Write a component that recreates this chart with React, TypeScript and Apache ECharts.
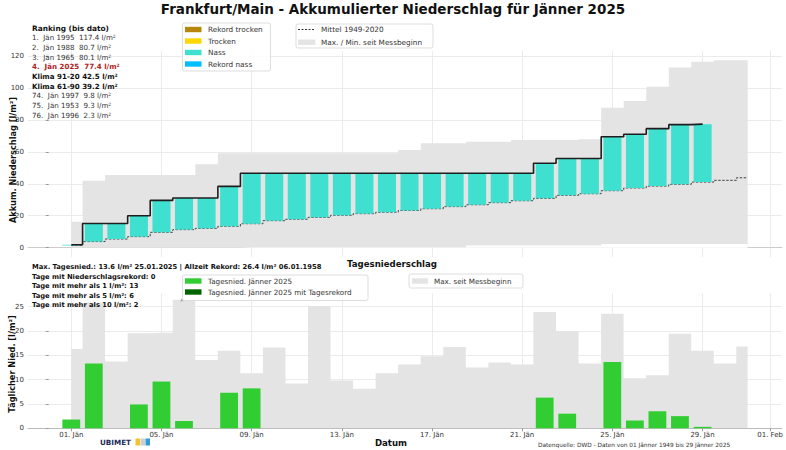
import React, { useEffect, useRef } from "react";
import * as echarts from "echarts";

// ---- data ----
const days = [1, 2, 3, 4, 5, 6, 7, 8, 9, 10, 11, 12, 13, 14, 15, 16, 17, 18, 19, 20, 21, 22, 23, 24, 25, 26, 27, 28, 29, 30, 31];
const cumMax = [16.3, 42.0, 45.5, 45.5, 45.5, 45.5, 52.2, 59.1, 59.1, 59.1, 59.1, 59.1, 59.1, 59.1, 59.1, 61.2, 65.4, 65.4, 66.4, 66.4, 67.4, 67.4, 67.4, 67.9, 87.7, 92.0, 100.8, 113.0, 116.5, 117.4, 117.4];
const cumMin = [0, 0, 0, 0, 0, 0, 0, 0, 0.3, 0.3, 0.3, 0.3, 0.3, 0.3, 0.3, 0.3, 0.3, 0.3, 1.3, 1.3, 1.3, 1.3, 1.3, 1.3, 2.3, 2.3, 2.3, 2.3, 2.3, 2.3, 2.3];
const cumMean = [1.4, 3.8, 5.4, 6.9, 9.6, 11.3, 12.1, 13.4, 15.0, 16.9, 17.8, 19.0, 20.3, 21.3, 22.2, 23.3, 24.4, 25.7, 26.9, 28.2, 29.4, 30.9, 32.8, 33.8, 35.7, 37.4, 38.6, 39.7, 41.1, 42.2, 43.8];
const daily2025 = [1.8, 13.3, 0, 4.9, 9.6, 1.5, 0, 7.3, 8.2, 0, 0, 0, 0, 0, 0, 0, 0, 0, 0, 0, 0, 6.3, 3.0, 0, 13.6, 1.6, 3.5, 2.5, 0.3];
const dailyMax = [16.3, 25.8, 13.7, 19.5, 19.6, 26.4, 14.0, 15.9, 11.3, 16.6, 9.2, 25.1, 9.8, 8.1, 11.3, 13.1, 14.8, 16.7, 12.5, 13.5, 13.1, 23.9, 20.0, 13.3, 23.5, 10.3, 10.9, 19.4, 15.9, 13.3, 16.8];
const recordDay = 6;
const recordValue = 26.4;

const tickDays = [1, 5, 9, 13, 17, 21, 25, 29, 32];
const tickLabels = ["01. Jän", "05. Jän", "09. Jän", "13. Jän", "17. Jän", "21. Jän", "25. Jän", "29. Jän", "01. Feb"];
const topYTicks = [0, 20, 40, 60, 80, 100, 120];
const bottomYTicks = [0, 5, 10, 15, 20, 25];

const rankPlaces = ["1.", "2.", "3.", "4.", "74.", "75.", "76."];
const rankYears = ["1995", "1988", "1965", "2025", "1997", "1953", "1996"];
const rankValues = ["117.4", "80.7", "80.1", "77.4", "9.8", "9.3", "2.3"];
const climateLines = ["Klima 91-20 42.5 l/m²", "Klima 61-90 39.2 l/m²"];
const statLines = [
  "Max. Tagesnied.: 13.6 l/m² 25.01.2025 | Allzeit Rekord: 26.4 l/m² 06.01.1958",
  "Tage mit Niederschlagsrekord: 0",
  "Tage mit mehr als 1 l/m²: 13",
  "Tage mit mehr als 5 l/m²: 6",
  "Tage mit mehr als 10 l/m²: 2",
];
const legendTopItems = [
  { label: "Rekord trocken", color: "#b8860b" },
  { label: "Trocken", color: "#ffd700" },
  { label: "Nass", color: "#40e0d0" },
  { label: "Rekord nass", color: "#00bfff" },
];

const FONT = "DejaVu Sans";
const GREY = "#e4e4e4";
const GRID = "#ebebeb";

function App() {
  const ref = useRef<HTMLDivElement>(null);
  useEffect(() => {
    if (!ref.current) return;
    const chart = echarts.init(ref.current, null, { renderer: "svg" });

    const days2025 = days.slice(0, daily2025.length);
    const cum2025: number[] = [];
    daily2025.forEach((v, i) => cum2025.push(Math.round(((i ? cum2025[i - 1] : 0) + v) * 10) / 10));

    const xMin = -0.92;
    const xMax = 32.52;

    const txt = (x: number, y: number, text: string, o: any = {}) => ({
      type: "text",
      x,
      y,
      z: 100,
      rotation: o.rotation || 0,
      style: {
        text,
        fontFamily: FONT,
        fontSize: o.size || 7,
        fontWeight: o.bold ? "bold" : "normal",
        fill: o.color || "#222",
        align: o.align || "left",
        verticalAlign: "middle",
      },
    });
    const rect = (x: number, y: number, w: number, h: number, fill: string, stroke?: string) => ({
      type: "rect",
      z: 99,
      shape: { x, y, width: w, height: h, r: stroke ? 2 : 0 },
      style: { fill, stroke: stroke || null, lineWidth: stroke ? 1 : 0 },
    });

    const graphics: any[] = [];
    graphics.push(txt(393, 9, "Frankfurt/Main - Akkumulierter Niederschlag für Jänner 2025", { size: 13.5, bold: true, align: "center", color: "#111" }));
    // ranking block
    const ry0 = 28.3;
    const rs = 9.67;
    graphics.push(txt(32, ry0, "Ranking (bis dato)", { size: 7.4, bold: true, color: "#111" }));
    const rankText = (i: number) => `${rankPlaces[i]}  Jän ${rankYears[i]}  ${rankValues[i]} l/m²`;
    for (let i = 0; i < 3; i++) graphics.push(txt(32, ry0 + rs * (i + 1), rankText(i), { size: 7.1, color: "#333" }));
    graphics.push(txt(32, ry0 + rs * 4, rankText(3), { size: 7.1, bold: true, color: "#b22222" }));
    graphics.push(txt(32, ry0 + rs * 5, climateLines[0], { size: 7.1, bold: true, color: "#111" }));
    graphics.push(txt(32, ry0 + rs * 6, climateLines[1], { size: 7.1, bold: true, color: "#111" }));
    for (let i = 4; i < 7; i++) graphics.push(txt(32, ry0 + rs * (i + 3), rankText(i), { size: 7.1, color: "#333" }));

    // top legend 1
    graphics.push(rect(182.5, 23, 88, 48, "rgba(255,255,255,0.85)", "#dddddd"));
    legendTopItems.forEach((it, i) => {
      const y = 29.5 + i * 11.5;
      graphics.push(rect(185, y - 2.7, 16.5, 5.4, it.color));
      graphics.push(txt(208, y, it.label, { size: 7.3, color: "#333" }));
    });
    // top legend 2
    graphics.push(rect(296, 24, 137, 24, "rgba(255,255,255,0.85)", "#dddddd"));
    graphics.push({ type: "line", z: 100, shape: { x1: 298, y1: 29.5, x2: 315.5, y2: 29.5 }, style: { stroke: "#333", lineWidth: 1, lineDash: [2, 1.5] } });
    graphics.push(txt(321, 29.5, "Mittel 1949-2020", { size: 7.3, color: "#333" }));
    graphics.push(rect(298, 39.5, 17.5, 5.4, GREY));
    graphics.push(txt(321, 42, "Max. / Min. seit Messbeginn", { size: 7.3, color: "#333" }));

    // y-axis titles
    graphics.push(txt(13, 160, "Akkum. Niederschlag [l/m²]", { size: 8.2, bold: true, align: "center", rotation: Math.PI / 2, color: "#111" }));
    graphics.push(txt(12, 364, "Täglicher Nied. [l/m²]", { size: 8.2, bold: true, align: "center", rotation: Math.PI / 2, color: "#111" }));

    // middle title
    graphics.push(txt(392, 264, "Tagesniederschlag", { size: 8.6, bold: true, align: "center", color: "#111" }));
    // stats
    const sy = [267, 276.5, 286, 295.5, 305];
    statLines.forEach((s, i) => graphics.push(txt(32, sy[i], s, { size: 6.75, bold: true, color: "#111" })));
    // bottom legend 1
    graphics.push(rect(182.5, 275, 185.5, 25.5, "rgba(255,255,255,0.85)", "#dddddd"));
    graphics.push(rect(185, 278.3, 16.5, 5.4, "#32cd32"));
    graphics.push(txt(208, 281, "Tagesnied. Jänner 2025", { size: 7.2, color: "#333" }));
    graphics.push(rect(185, 289.3, 16.5, 5.4, "#006400"));
    graphics.push(txt(208, 292, "Tagesnied. Jänner 2025 mit Tagesrekord", { size: 7.2, color: "#333" }));
    // bottom legend 2
    graphics.push(rect(409, 274, 114, 14, "rgba(255,255,255,0.85)", "#dddddd"));
    graphics.push(rect(412, 278.3, 16, 5.4, GREY));
    graphics.push(txt(434, 281, "Max. seit Messbeginn", { size: 7.2, color: "#333" }));

    // footer
    graphics.push(txt(391, 443, "Datum", { size: 8.6, bold: true, align: "center", color: "#111" }));
    graphics.push(txt(538, 445, "Datenquelle: DWD - Daten von 01 Jänner 1949 bis 29 Jänner 2025", { size: 5.8, color: "#333" }));
    graphics.push(txt(100, 442, "UBIMET", { size: 7.2, bold: true, color: "#1c2b5a" }));
    graphics.push(rect(135.5, 438.5, 4.5, 7, "#f2c230"));
    graphics.push(rect(140.5, 438.5, 4.5, 7, "#cfcfcf"));
    graphics.push(rect(145.5, 438.5, 4.5, 7, "#2f9bd8"));

    const hLines = (vals: number[]) => vals.map((v) => ({ yAxis: v }));
    const vLines = tickDays.map((d) => ({ xAxis: d }));
    const gridMark = (vals: number[]) => ({
      silent: true,
      symbol: "none",
      z: 0,
      label: { show: false },
      lineStyle: { color: GRID, width: 1, type: "solid" },
      data: [...hLines(vals), ...vLines],
      animation: false,
    });

    const option: any = {
      animation: false,
      backgroundColor: "#ffffff",
      textStyle: { fontFamily: FONT },
      grid: [
        { left: 28, right: 4, top: 51, height: 206 },
        { left: 28, right: 4, top: 293.3, height: 135 },
      ],
      xAxis: [
        {
          type: "value", gridIndex: 0, min: xMin, max: xMax,
          axisLine: { show: true, lineStyle: { color: "#cccccc" } },
          axisTick: { show: false }, axisLabel: { show: false }, splitLine: { show: false },
        },
        {
          type: "value", gridIndex: 1, min: xMin, max: xMax,
          axisLine: { show: true, lineStyle: { color: "#bbbbbb" } },
          axisTick: { show: true, length: 3, customValues: tickDays, lineStyle: { color: "#999" } },
          axisLabel: {
            show: true, customValues: tickDays, fontSize: 7, fontFamily: FONT, color: "#333", margin: 3,
            formatter: (v: number) => tickLabels[tickDays.indexOf(Math.round(v))] || "",
          },
          splitLine: { show: false },
        },
      ],
      yAxis: [
        {
          type: "value", gridIndex: 0, min: -5.87, max: 123.27,
          axisLine: { show: false },
          axisTick: { show: true, length: 3, customValues: topYTicks, lineStyle: { color: "#999" } },
          axisLabel: { show: true, customValues: topYTicks, fontSize: 7, fontFamily: FONT, color: "#333", margin: 4 },
          splitLine: { show: false },
        },
        {
          type: "value", gridIndex: 1, min: 0, max: 27.72,
          axisLine: { show: false },
          axisTick: { show: true, length: 3, customValues: bottomYTicks, lineStyle: { color: "#999" } },
          axisLabel: { show: true, customValues: bottomYTicks, fontSize: 7, fontFamily: FONT, color: "#333", margin: 4 },
          splitLine: { show: false },
        },
      ],
      series: [
        {
          type: "line", xAxisIndex: 0, yAxisIndex: 0, z: 1, step: "middle", symbol: "none",
          data: days.map((d, i) => [d, cumMax[i]]),
          lineStyle: { width: 0 }, areaStyle: { color: GREY, opacity: 1 },
          markLine: gridMark(topYTicks),
        },
        {
          type: "line", xAxisIndex: 0, yAxisIndex: 0, z: 2, step: "middle", symbol: "none",
          data: days.map((d, i) => [d, cumMin[i]]),
          lineStyle: { width: 0 }, areaStyle: { color: "#ffffff", opacity: 1 },
        },
        {
          type: "line", xAxisIndex: 0, yAxisIndex: 0, z: 3, step: "middle", symbol: "none",
          data: days.map((d, i) => [d, cumMean[i]]),
          lineStyle: { color: "#444", width: 1, type: [2.5, 1.5] },
        },
        {
          type: "custom", xAxisIndex: 0, yAxisIndex: 0, z: 4,
          data: days2025.map((d, i) => [d, cumMean[i], cum2025[i]]),
          encode: { x: 0, y: [1, 2] },
          renderItem: (params: any, api: any) => {
            const d = api.value(0);
            const p1 = api.coord([d - 0.4, api.value(2)]);
            const p2 = api.coord([d + 0.4, api.value(1)]);
            return {
              type: "rect",
              shape: { x: p1[0], y: p1[1], width: p2[0] - p1[0], height: p2[1] - p1[1] },
              style: { fill: "#40e0d0" },
            };
          },
        },
        {
          type: "line", xAxisIndex: 0, yAxisIndex: 0, z: 5, step: "middle", symbol: "none",
          data: days2025.map((d, i) => [d, cum2025[i]]),
          lineStyle: { color: "#1e1e1e", width: 1.6 },
        },
        {
          type: "line", xAxisIndex: 1, yAxisIndex: 1, z: 1, step: "middle", symbol: "none",
          data: days.map((d, i) => [d, dailyMax[i]]),
          lineStyle: { width: 0 }, areaStyle: { color: GREY, opacity: 1 },
          markLine: gridMark(bottomYTicks),
        },
        {
          type: "bar", xAxisIndex: 1, yAxisIndex: 1, z: 4, barWidth: 17.8,
          data: days2025.map((d, i) => [d, daily2025[i]]),
          itemStyle: { color: "#32cd32" },
        },
        {
          type: "scatter", xAxisIndex: 1, yAxisIndex: 1, z: 5, symbol: "triangle", symbolSize: 3,
          data: [[recordDay - 0.1, recordValue]],
          itemStyle: { color: "#999999" },
        },
      ],
      graphic: graphics,
    };
    chart.setOption(option);
    return () => chart.dispose();
  }, []);
  return <div ref={ref} style={{ position: "fixed", left: 0, top: 0, width: 786, height: 450 }} />;
}

export default App;
